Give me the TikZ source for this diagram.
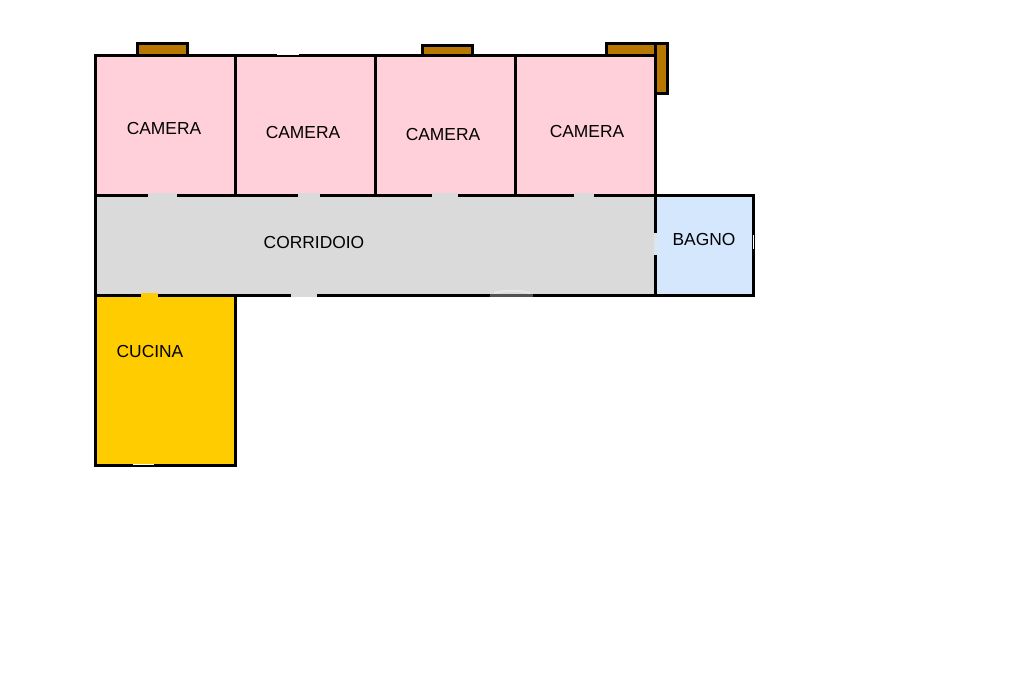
\documentclass[tikz,border=0pt]{standalone}
\usepackage{fontspec}
\setmainfont{Liberation Sans}
\definecolor{roompink}{HTML}{FFCFDA}
\definecolor{roomgrey}{HTML}{DADADA}
\definecolor{roomblue}{HTML}{D4E7FD}
\definecolor{roomgold}{HTML}{FFCC00}
\definecolor{winbrown}{HTML}{B87800}
\definecolor{bathgap}{HTML}{DDE5EC}
\tikzset{
  wall/.style={draw=black,line width=2.25pt,line join=miter},
  sill/.style={draw=black,fill=winbrown,line width=2.25pt,line join=miter},
  gapmark/.style={line width=2.6pt},
  thinmark/.style={white,line width=0.8pt},
  lblroom/.style={inner sep=0pt,text=black,font=\fontsize{13.05}{15}\selectfont}
}
\begin{document}
\begin{tikzpicture}[x=0.75pt,y=-0.75pt]
\useasboundingbox[fill=white] (0,0) rectangle (1024,682);
% windows
\draw[sill] (137.5,43.5) rectangle (187.5,55);
\draw[sill] (422.5,45.5) rectangle (472.5,55);
\draw[sill] (606.5,43.5) rectangle (655.5,55);
\draw[sill] (655.5,43.5) rectangle (667.5,93);
% rooms
\draw[wall,fill=roompink] (95.5,55) rectangle (235.5,195);
\draw[wall,fill=roompink] (235.5,55) rectangle (375.5,195);
\draw[wall,fill=roompink] (375.5,55) rectangle (515.5,195);
\draw[wall,fill=roompink] (515.5,55) rectangle (655.5,195);
\draw[wall,fill=roomgold] (95.5,295) rectangle (235.5,465);
\draw[wall,fill=roomgrey] (95.5,195) rectangle (655.5,295);
\draw[wall,fill=roomblue] (655.5,195) rectangle (753.5,295);
% door openings
\draw[gapmark,roomgrey] (148,195) -- (177,195);
\draw[gapmark,roomgrey] (298,195) -- (320,195);
\draw[gapmark,roomgrey] (432,195) -- (458,195);
\draw[gapmark,roomgrey] (574,195) -- (594,195);
\draw[gapmark,roomgrey] (291,295.5) -- (317,295.5);
\draw[gapmark,roomgold] (141,295) -- (158,295);
\draw[gapmark,bathgap] (655.5,233) -- (655.5,255);
% white marks
\draw[thinmark] (277,54.6) -- (299,54.6);
\draw[thinmark] (133,464.6) -- (154,464.6);
\draw[thinmark] (753.4,235) -- (753.4,249);
% faint arc over the corridor wall
\draw[line width=2.2pt,black!68] (490,295.2) -- (533,295.2);
\draw[line width=1.6pt,white,opacity=.35] (494,293) .. controls (505,290) and (520,290) .. (530,293);
% labels
\node[lblroom] (cam1) at (164,129) {CAMERA};
\node[lblroom] (cam2) at (303,133) {CAMERA};
\node[lblroom] (cam3) at (443,135) {CAMERA};
\node[lblroom] (cam4) at (587,132) {CAMERA};
\node[lblroom] (corr) at (314,243) {CORRIDOIO};
\node[lblroom] (bath) at (704,240) {BAGNO};
\node[lblroom] (kitchen) at (150,352) {CUCINA};
\end{tikzpicture}
\end{document}
